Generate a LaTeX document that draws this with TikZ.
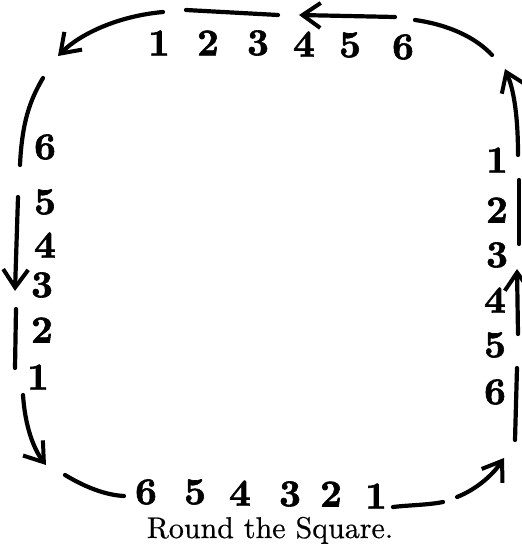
\documentclass[tikz,border=0pt]{standalone}
\usepackage{fontspec}
\usetikzlibrary{arrows.meta}
\newfontface\handdigits[FakeBold=1.6]{lmroman10-bold.otf}
\newfontface\captionfont[FakeBold=0.5]{lmroman10-regular.otf}

\tikzset{
  stroke/.style={line width=4.2pt, line cap=round},
  barb/.style={stroke, -{Straight Barb[length=18pt,width=25pt,line width=4pt]}},
  digit/.style={font=\handdigits\fontsize{38}{40}\selectfont, inner sep=0pt}
}

\begin{document}
\begin{tikzpicture}[x=1pt,y=-1pt]
    \useasboundingbox (0,0) rectangle (521,545);

    % Numbers, top row (left to right)
    \foreach \n/\x/\y in {1/159/43, 2/208/43, 3/258/43, 4/304/44, 5/350/45, 6/403/47}
        \node[digit] (top\n) at (\x,\y) {\n};

    % Numbers, right column (top to bottom)
    \foreach \n/\x/\y in {1/497/160, 2/497/210, 3/497/255, 4/495/300, 5/495/345, 6/495/392}
        \node[digit] (right\n) at (\x,\y) {\n};

    % Numbers, bottom row (right to left)
    \foreach \n/\x/\y in {1/376/496, 2/331/494, 3/290/494, 4/240/493, 5/195/492, 6/146/492}
        \node[digit] (bottom\n) at (\x,\y) {\n};

    % Numbers, left column (bottom to top)
    \foreach \n/\x/\y in {1/38/377, 2/42/330, 3/42/285, 4/45/245, 5/45/202, 6/45/147}
        \node[digit] (left\n) at (\x,\y) {\n};

    % Top side
    \draw[barb] (163,12) .. controls (118,16) and (80,34) .. (58,56);
    \draw[stroke] (186,10) -- (278,15);
    \draw[barb] (395,17) -- (299,15);
    \draw[stroke] (415,20) .. controls (450,25) and (476,38) .. (492,55);

    % Right side
    \draw[barb] (518,155) .. controls (518,112) and (513,88) .. (505,69);
    \draw[stroke] (519,180) -- (519,244);
    \draw[barb] (518,334) -- (517,269);
    \draw[stroke] (517,368) -- (515,440);

    % Bottom side
    \draw[barb] (457,497) .. controls (475,490) and (492,476) .. (504,458);
    \draw[stroke] (393,507) .. controls (410,505) and (428,505) .. (443,502);
    \draw[stroke] (65,475) .. controls (85,487) and (105,495) .. (124,496);

    % Left side
    \draw[barb] (23,395) .. controls (25,425) and (33,448) .. (46,465);
    \draw[stroke] (20,165) .. controls (22,122) and (30,100) .. (43,78);
    \draw[barb] (18,197) -- (15,291);
    \draw[stroke] (16,309) -- (15,368);

    % Caption
    \node[font=\captionfont\fontsize{30}{32}\selectfont, inner sep=0pt, anchor=base] (caption) at (270,538) {Round the Square.};
\end{tikzpicture}
\end{document}
